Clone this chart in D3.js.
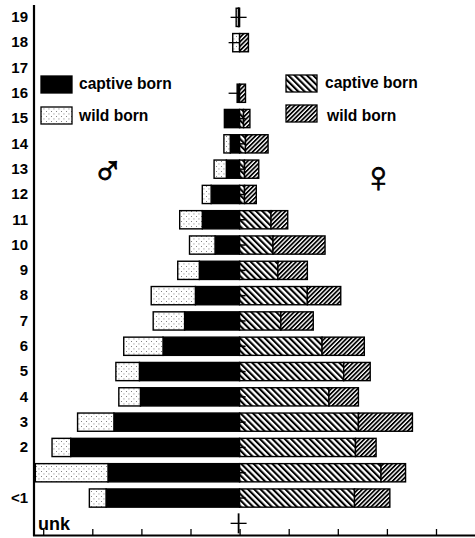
<!DOCTYPE html>
<html><head><meta charset="utf-8">
<script src="https://cdn.jsdelivr.net/npm/d3@7"></script>
<style>
html,body{margin:0;padding:0;background:#fff;}
svg{display:block;}
text{font-family:"Liberation Sans",Arial,sans-serif;}
</style></head>
<body>
<svg id="c" width="475" height="538"></svg>
<script>
// ---- data ----
const categories = ["unk","<1","1","2","3","4","5","6","7","8","9","10","11","12","13","14","15","16","17","18","19"];
const tickLabels = ["","<1","","2","3","4","5","6","7","8","9","10","11","12","13","14","15","16","17","18","19"];
const maleCaptive   = [0,13.6,13.4,17.2,12.8,10.1,10.2,7.8,5.6,4.5,4.1,2.5,3.8,2.9,1.35,0.95,1.55,0.25,0,0,0];
const maleWild      = [0,1.7,7.4,1.9,3.7,2.2,2.4,4.0,3.2,4.5,2.2,2.6,2.3,0.9,1.25,0.65,0,0,0,0.7,0.35];
const femaleCaptive = [0,11.7,14.4,11.8,12.1,9.1,10.6,8.4,4.2,6.9,3.9,3.4,3.2,0.5,0.5,0.6,0.4,0,0,0,0];
const femaleWild    = [0,3.6,2.5,2.1,5.5,3.0,2.7,4.3,3.3,3.4,3.0,5.3,1.7,1.2,1.45,2.3,0.65,0.6,0,0.9,0];
const xTicks = [-20,-15,-10,-5,0,5,10,15,20];
const crossRows = ["19","unk"];
const armRows = ["18","16"];
const legendMale = ["captive born","wild born"];
const legendFemale = ["captive born","wild born"];

// ---- setup ----
const svg = d3.select("#c");
const x = d3.scaleLinear().domain([-20,20]).range([43.2,436]);
const y = d3.scaleBand().domain(categories.slice().reverse()).range([4.7,536]).paddingInner(0.28).paddingOuter(0.14);
const bw = y.bandwidth();

const defs = svg.append("defs");
// stipple
const st = defs.append("pattern").attr("id","dots").attr("patternUnits","userSpaceOnUse").attr("width",5).attr("height",5);
st.append("rect").attr("width",5).attr("height",5).attr("fill","#fff");
[[1,1],[3.5,3.5]].forEach(p=>st.append("rect").attr("x",p[0]).attr("y",p[1]).attr("width",0.9).attr("height",0.9).attr("fill","#666"));
// captive female "\\"
const h1 = defs.append("pattern").attr("id","hatchB").attr("patternUnits","userSpaceOnUse").attr("width",4.4).attr("height",4.4).attr("patternTransform","rotate(-45)");
h1.append("rect").attr("width",4.4).attr("height",4.4).attr("fill","#fff");
h1.append("rect").attr("x",0).attr("width",2.1).attr("height",4.4).attr("fill","#000");
// wild female "//"
const h2 = defs.append("pattern").attr("id","hatchF").attr("patternUnits","userSpaceOnUse").attr("width",3.1).attr("height",3.1).attr("patternTransform","rotate(45)");
h2.append("rect").attr("width",3.1).attr("height",3.1).attr("fill","#fff");
h2.append("rect").attr("x",0).attr("width",1.75).attr("height",3.1).attr("fill","#000");
defs.append("clipPath").attr("id","clip").append("rect").attr("x",35).attr("y",0).attr("width",440).attr("height",538);

const rows = categories.map((c,i)=>({c, mc:maleCaptive[i], mw:maleWild[i], fc:femaleCaptive[i], fw:femaleWild[i]}));
const segs = [];
rows.forEach(r=>{
  if(r.mc>0) segs.push({c:r.c, a:-r.mc, b:0, fill:"#000"});
  if(r.mw>0) segs.push({c:r.c, a:-(r.mc+r.mw), b:-r.mc, fill:"url(#dots)"});
  if(r.fc>0) segs.push({c:r.c, a:0, b:r.fc, fill:"url(#hatchB)"});
  if(r.fw>0) segs.push({c:r.c, a:r.fc, b:r.fc+r.fw, fill:"url(#hatchF)"});
});
const g = svg.append("g").attr("clip-path","url(#clip)");
g.selectAll("rect.seg").data(segs).join("rect").attr("class","seg")
  .attr("x",d=>x(d.a)).attr("width",d=>x(d.b)-x(d.a))
  .attr("y",d=>y(d.c)).attr("height",bw)
  .attr("fill",d=>d.fill).attr("stroke","#000").attr("stroke-width",1.4);

// center marks
const x0 = x(0);
g.selectAll("line.cm").data(rows.filter(r=>r.fc+r.fw>0 && !armRows.includes(r.c))).join("line").attr("class","cm")
  .attr("x1",x0).attr("x2",x0+6).attr("y1",d=>y(d.c)+bw/2).attr("y2",d=>y(d.c)+bw/2)
  .attr("stroke","#000").attr("stroke-width",1.5);
g.selectAll("line.arm").data(armRows).join("line").attr("class","arm")
  .attr("x1",x0-11).attr("x2",x0).attr("y1",d=>y(d)+bw/2).attr("y2",d=>y(d)+bw/2)
  .attr("stroke","#000").attr("stroke-width",1.3);
crossRows.forEach(c=>{
  const cy = y(c)+bw/2;
  g.append("line").attr("x1",x0-9).attr("x2",x0+7).attr("y1",cy).attr("y2",cy).attr("stroke","#000").attr("stroke-width",1.3);
  g.append("line").attr("x1",x0-1).attr("x2",x0-1).attr("y1",cy-10).attr("y2",cy+10).attr("stroke","#000").attr("stroke-width",1.8);
});

// axes
const xa = svg.append("g").attr("transform","translate(0,535)")
  .call(d3.axisBottom(x).tickValues(xTicks).tickSize(-6).tickFormat(()=>""));
xa.select(".domain").remove();
xa.selectAll(".tick line").attr("stroke","#000").attr("stroke-width",1.3);
svg.append("line").attr("x1",33).attr("x2",475).attr("y1",535.5).attr("y2",535.5).attr("stroke","#000").attr("stroke-width",2);

const ya = svg.append("g").attr("transform","translate(33,0)")
  .call(d3.axisLeft(y).tickSize(0).tickPadding(5).tickFormat(d=>tickLabels[categories.indexOf(d)]));
ya.select(".domain").remove();
ya.selectAll("text").attr("font-size","15px").attr("font-weight","bold").attr("fill","#000").attr("font-family","'Liberation Sans',Arial,sans-serif");
svg.append("line").attr("x1",34).attr("x2",34).attr("y1",5).attr("y2",536).attr("stroke","#000").attr("stroke-width",2.2);

svg.append("text").attr("x",38).attr("y",y("unk")+bw/2+7).attr("font-size","18px").attr("font-weight","bold").text("unk");

// legend
const lgM = svg.append("g");
lgM.selectAll("rect").data(legendMale).join("rect")
  .attr("x",41).attr("y",(d,i)=>76+i*31).attr("width",31).attr("height",17)
  .attr("fill",(d,i)=>i===0?"#000":"url(#dots)").attr("stroke","#000").attr("stroke-width",1.3);
lgM.selectAll("text").data(legendMale).join("text")
  .attr("x",79).attr("y",(d,i)=>89+i*32).attr("font-size","15.6px").attr("font-weight","bold").text(d=>d);
const lgF = svg.append("g");
lgF.selectAll("rect").data(legendFemale).join("rect")
  .attr("x",286).attr("y",(d,i)=>75+i*30).attr("width",31).attr("height",17)
  .attr("fill",(d,i)=>i===0?"url(#hatchB)":"url(#hatchF)").attr("stroke","#000").attr("stroke-width",1.3);
lgF.selectAll("text").data(legendFemale).join("text")
  .attr("x",(d,i)=>i===0?325:327).attr("y",(d,i)=>88+i*33).attr("font-size","15.6px").attr("font-weight","bold").text(d=>d);

// sex symbols
svg.append("text").attr("x",92).attr("y",185).attr("font-family","'DejaVu Sans',sans-serif").attr("font-size","42px").attr("stroke","#000").attr("stroke-width",1).text("\u2642");
svg.append("text").attr("x",362).attr("y",192).attr("font-family","'DejaVu Sans',sans-serif").attr("font-size","44px").attr("stroke","#000").attr("stroke-width",0.8).text("\u2640");
</script>
</body></html>
